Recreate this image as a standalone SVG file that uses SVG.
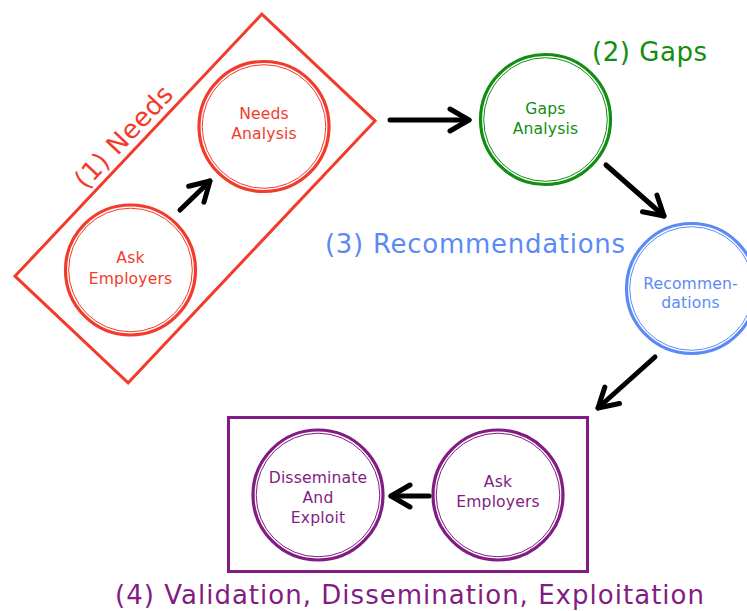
<svg xmlns="http://www.w3.org/2000/svg" width="747" height="611" viewBox="0 0 747 611">
<style>
  text { font-family: "DejaVu Sans", "Liberation Sans", sans-serif; }
  .lbl { font-size: 15.6px; letter-spacing: 0.15px; text-anchor: middle; }
  .head { font-size: 26px; }
  .outer { fill: none; stroke-width: 3.2; }
  .inner { fill: none; stroke-width: 1; }
  .frame { fill: none; stroke-width: 3; }
  .red { stroke: #f23b2b; } .redt { fill: #f23b2b; }
  .green { stroke: #128e12; } .greent { fill: #128e12; }
  .blue { stroke: #5c8af5; } .bluet { fill: #5c8af5; }
  .purple { stroke: #821c82; } .purplet { fill: #821c82; }
  .arrow { stroke: #000; stroke-width: 5; stroke-linecap: round; fill: none; marker-end: url(#head); }
</style>
<defs>
  <marker id="head" markerUnits="userSpaceOnUse" markerWidth="40" markerHeight="40" refX="0" refY="0" orient="auto" overflow="visible">
    <path d="M-19,-11 L0,0 L-19,11" fill="none" stroke="#000" stroke-width="5" stroke-linecap="round" stroke-linejoin="round"/>
  </marker>
</defs>

<g id="group-needs">
  <rect class="frame red" x="15" y="120.75" width="360" height="155.5" transform="rotate(-46.7 195 198.5)"/>
  <text class="head redt" text-anchor="middle" textLength="130" transform="translate(130,143) rotate(-46.7)">(1) Needs</text>
</g>
<g id="node-needs-analysis">
  <circle class="outer red" cx="264" cy="126.5" r="65"/>
  <circle class="inner red" cx="264" cy="126.5" r="61.8"/>
  <text class="lbl redt" x="264" y="118.5">Needs</text>
  <text class="lbl redt" x="264" y="139">Analysis</text>
</g>
<g id="node-ask-employers-1">
  <circle class="outer red" cx="130.5" cy="270" r="65"/>
  <circle class="inner red" cx="130.5" cy="270" r="61.8"/>
  <text class="lbl redt" x="130.5" y="263">Ask</text>
  <text class="lbl redt" x="130.5" y="284">Employers</text>
</g>

<g id="group-gaps">
  <text class="head greent" x="592" y="61" textLength="115">(2) Gaps</text>
</g>
<g id="node-gaps-analysis">
  <circle class="outer green" cx="545.5" cy="119.5" r="65"/>
  <circle class="inner green" cx="545.5" cy="119.5" r="61.8"/>
  <text class="lbl greent" x="545.5" y="114">Gaps</text>
  <text class="lbl greent" x="545.5" y="134">Analysis</text>
</g>

<g id="group-recommendations">
  <text class="head bluet" x="325" y="253" textLength="300">(3) Recommendations</text>
</g>
<g id="node-recommendations">
  <circle class="outer blue" cx="691.5" cy="288.5" r="65"/>
  <circle class="inner blue" cx="691.5" cy="288.5" r="61.8"/>
  <text class="lbl bluet" x="690.5" y="289">Recommen-</text>
  <text class="lbl bluet" x="690.5" y="308">dations</text>
</g>

<g id="group-validation">
  <rect class="frame purple" x="228.5" y="417.5" width="359" height="154"/>
  <text class="head purplet" x="115" y="604" textLength="589">(4) Validation, Dissemination, Exploitation</text>
</g>
<g id="node-disseminate">
  <circle class="outer purple" cx="318" cy="495" r="65"/>
  <circle class="inner purple" cx="318" cy="495" r="61.8"/>
  <text class="lbl purplet" x="318" y="483">Disseminate</text>
  <text class="lbl purplet" x="318" y="503">And</text>
  <text class="lbl purplet" x="318" y="523">Exploit</text>
</g>
<g id="node-ask-employers-2">
  <circle class="outer purple" cx="498" cy="495" r="65"/>
  <circle class="inner purple" cx="498" cy="495" r="61.8"/>
  <text class="lbl purplet" x="498" y="487">Ask</text>
  <text class="lbl purplet" x="498" y="507">Employers</text>
</g>

<g id="connectors">
  <line class="arrow" x1="180" y1="210" x2="210" y2="181"/>
  <line class="arrow" x1="390" y1="120" x2="469" y2="120"/>
  <line class="arrow" x1="606" y1="165" x2="664" y2="216"/>
  <line class="arrow" x1="655" y1="357" x2="598" y2="408"/>
  <line class="arrow" x1="429" y1="496" x2="391" y2="496"/>
</g>
</svg>
